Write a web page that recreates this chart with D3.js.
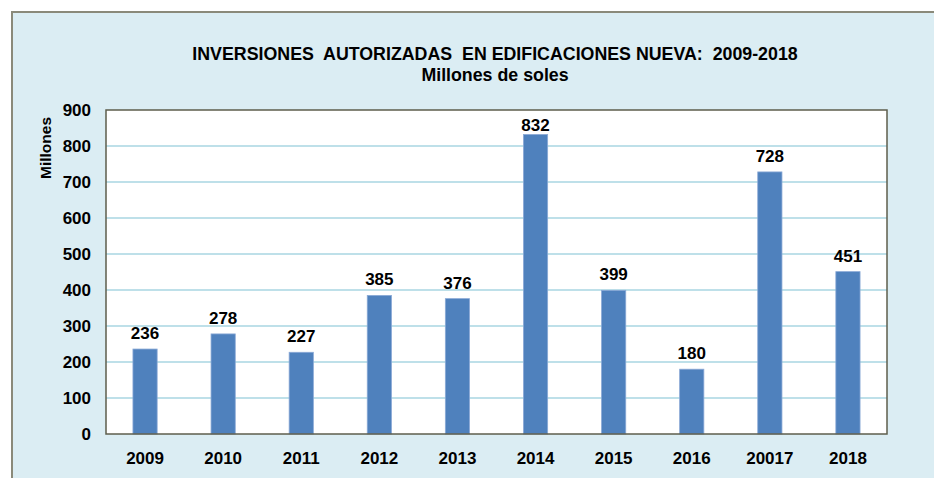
<!DOCTYPE html>
<head>
  <meta charset="utf-8">
  <style>
    body { margin: 0; background: #fff; font-family: "Liberation Sans", Arial, sans-serif; }
    svg text { font-weight: bold; fill: #000; }
  </style>
  <script src="https://cdn.jsdelivr.net/npm/d3@7"></script>
</head>
<body>
<div id=chart></div>
<script>
  // data
  const years = ['2009', '2010', '2011', '2012', '2013', '2014', '2015', '2016', '20017', '2018']
  const values = [236, 278, 227, 385, 376, 832, 399, 180, 728, 451]
  const yTicks = [0, 100, 200, 300, 400, 500, 600, 700, 800, 900]
  const titleLines = ['INVERSIONES  AUTORIZADAS  EN EDIFICACIONES NUEVA:  2009-2018', 'Millones de soles']

  const width = 934, height = 478
  const margin = { top: 110, right: 47, bottom: 44, left: 106 }
  const fontSize = 17

  const svg = d3.select('#chart').append('svg')
    .attr('width', width)
    .attr('height', height)

  // outer frame
  svg.append('rect')
    .attr('x', 12).attr('y', 12)
    .attr('width', width).attr('height', height)
    .attr('fill', '#dbedf3')
    .attr('stroke', '#8a8a7a')
    .attr('stroke-width', 2)

  const x = d3.scaleBand()
    .domain(years)
    .range([margin.left, width - margin.right])
    .paddingInner(0.69)
    .paddingOuter(0.345)

  const y = d3.scaleLinear()
    .domain([0, 900])
    .range([height - margin.bottom, margin.top])

  // plot area
  svg.append('rect')
    .attr('x', margin.left).attr('y', margin.top)
    .attr('width', width - margin.right - margin.left)
    .attr('height', height - margin.bottom - margin.top)
    .attr('fill', '#fff')

  // gridlines
  svg.append('g')
    .selectAll('line')
    .data(yTicks.slice(1, -1))
    .join('line')
      .attr('x1', margin.left)
      .attr('x2', width - margin.right)
      .attr('y1', d => y(d))
      .attr('y2', d => y(d))
      .attr('stroke', '#a8d6e2')
      .attr('stroke-width', 1.5)

  // bars
  svg.append('g')
    .selectAll('rect')
    .data(values)
    .join('rect')
      .attr('x', (d, i) => x(years[i]))
      .attr('y', d => y(d))
      .attr('width', x.bandwidth())
      .attr('height', d => y(0) - y(d))
      .attr('fill', '#4f81bd')
      .attr('stroke', '#8aa9d6')
      .attr('stroke-width', 0.8)

  // value labels (kept inside the plot area at the top)
  svg.append('g')
    .selectAll('text')
    .data(values)
    .join('text')
      .attr('x', (d, i) => x(years[i]) + x.bandwidth() / 2)
      .attr('y', d => Math.max(y(d) - 10, margin.top + 21))
      .attr('text-anchor', 'middle')
      .attr('font-size', fontSize)
      .text(d => d)

  // plot border
  svg.append('rect')
    .attr('x', margin.left).attr('y', margin.top)
    .attr('width', width - margin.right - margin.left)
    .attr('height', height - margin.bottom - margin.top)
    .attr('fill', 'none')
    .attr('stroke', '#5e5e4c')
    .attr('stroke-width', 1.5)

  const styleTicks = g => g.selectAll('text')
    .attr('font-family', '"Liberation Sans", Arial, sans-serif')
    .attr('font-size', fontSize)
    .attr('font-weight', 'bold')
    .attr('fill', '#000')

  // y axis
  svg.append('g')
    .attr('transform', `translate(${margin.left},0)`)
    .call(d3.axisLeft(y).tickValues(yTicks).tickSize(0).tickPadding(15))
    .call(g => g.select('.domain').remove())
    .call(styleTicks)

  // x axis
  svg.append('g')
    .attr('transform', `translate(0,${height - margin.bottom})`)
    .call(d3.axisBottom(x).tickSize(0).tickPadding(18))
    .call(g => g.select('.domain').remove())
    .call(styleTicks)

  // y label
  svg.append('text')
    .attr('transform', 'translate(51,148) rotate(-90)')
    .attr('text-anchor', 'middle')
    .attr('font-size', 15.5)
    .text('Millones')

  // title
  svg.append('g')
    .selectAll('text')
    .data(titleLines)
    .join('text')
      .attr('x', 495)
      .attr('y', (d, i) => 60 + i * 21)
      .attr('text-anchor', 'middle')
      .attr('font-size', 17.8)
      .style('white-space', 'pre')
      .text(d => d)
</script>
</body>
